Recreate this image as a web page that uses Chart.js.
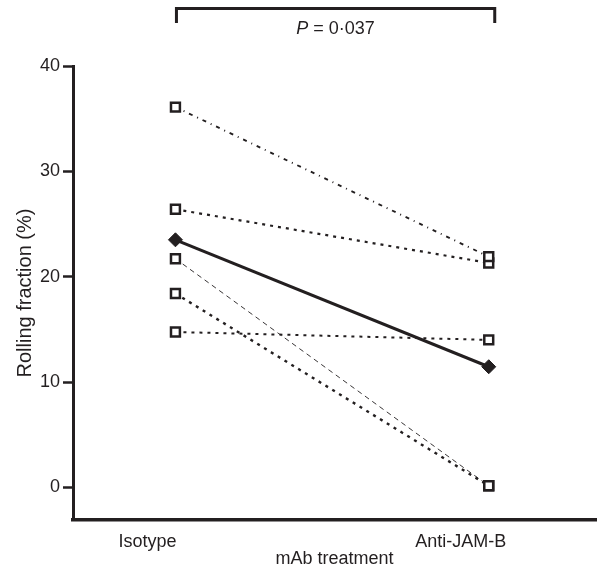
<!DOCTYPE html>
<html>
<head>
<meta charset="utf-8">
<script src="https://cdn.jsdelivr.net/npm/chart.js@4"></script>
<style>
  html, body { margin: 0; padding: 0; background: #fff; }
  #wrap { width: 605px; height: 571px; }
</style>
</head>
<body>
<div id="wrap"><canvas id="myChart" width="605" height="571"></canvas></div>
<script>
// values
const categories = ['Isotype', 'Anti-JAM-B'];
const isotypeValues = [36.1, 26.4, 21.7, 18.4, 14.75];
const antiJamBValues = [21.9, 21.3, 0.15, 0.15, 14.0];
const meanValues = [23.5, 11.45];
const yTicks = [0, 10, 20, 30, 40];
const pLabel = '0·037';

const ink = '#231f20';
const family = '"Liberation Sans", Arial, Helvetica, sans-serif';
const font = { family: family, size: 18 };

// line style of each subject
const dashes = [[4, 5, 1, 5], [3, 5], [5, 4], [3, 5], [3, 5]];
const widths = [1.9, 2.2, 0.9, 2.4, 2.0];

const subjectSets = isotypeValues.map((v, i) => ({
    label: 'subject ' + (i + 1),
    data: [{ x: 0, y: v }, { x: 1, y: antiJamBValues[i] }],
    borderColor: ink,
    borderWidth: widths[i],
    borderDash: dashes[i],
    pointStyle: 'rect',
    pointRadius: 6.3,
    pointBorderWidth: 2.5,
    pointBackgroundColor: '#fff',
    pointBorderColor: ink
}));

const meanSet = {
    label: 'mean',
    data: meanValues.map((v, i) => ({ x: i, y: v })),
    borderColor: ink,
    borderWidth: 3,
    pointStyle: 'rectRot',
    pointRadius: 7,
    pointBorderWidth: 1,
    pointBackgroundColor: ink,
    pointBorderColor: ink
};

// significance bracket above the two groups
const bracket = {
    id: 'bracket',
    afterDraw(chart) {
        const c = chart.ctx;
        const xs = chart.scales.x;
        const x0 = xs.getPixelForValue(0) + 1;
        const x1 = xs.getPixelForValue(1) + 6;
        c.save();
        c.strokeStyle = ink;
        c.lineWidth = 3;
        c.beginPath();
        c.moveTo(x0, 23);
        c.lineTo(x0, 8.5);
        c.lineTo(x1, 8.5);
        c.lineTo(x1, 23);
        c.stroke();
        const f = font.size + 'px ' + family;
        c.fillStyle = ink;
        c.textBaseline = 'alphabetic';
        c.font = 'italic ' + f;
        const wp = c.measureText('P').width;
        c.font = f;
        const rest = ' = ' + pLabel;
        const wr = c.measureText(rest).width;
        const start = (x0 + x1) / 2 - (wp + wr) / 2;
        c.font = 'italic ' + f;
        c.fillText('P', start, 34);
        c.font = f;
        c.fillText(rest, start + wp, 34);
        c.restore();
    }
};

const ctx = document.getElementById('myChart').getContext('2d');
const myChart = new Chart(ctx, {
    type: 'line',
    data: { datasets: [meanSet, ...subjectSets] },
    options: {
        responsive: false,
        animation: false,
        layout: { padding: { top: 66, right: 1, bottom: 0, left: 0 } },
        plugins: { legend: { display: false }, tooltip: { enabled: false } },
        scales: {
            x: {
                type: 'linear',
                min: -0.327,
                max: 1.343,
                afterFit(s) { s.height = 51; },
                afterBuildTicks(s) { s.ticks = categories.map((c, i) => ({ value: i })); },
                ticks: {
                    color: ink,
                    font: font,
                    padding: 3,
                    labelOffset: -28,
                    maxRotation: 0,
                    autoSkip: false,
                    callback: (v) => categories[v]
                },
                grid: { display: false },
                border: { color: ink, width: 3.5 },
                title: { display: true, text: 'mAb treatment', color: ink, font: font, padding: { top: 0, bottom: 1 } }
            },
            y: {
                min: -3.1,
                max: 40,
                afterFit(s) { s.width = 73; },
                afterBuildTicks(s) { s.ticks = yTicks.map(v => ({ value: v })); },
                ticks: { color: ink, font: font, padding: 3 },
                grid: { drawOnChartArea: false, tickLength: 10, tickWidth: 2.5, color: ink },
                border: { color: ink, width: 3 },
                title: { display: true, text: 'Rolling fraction (%)', color: ink, font: { family: family, size: 20 }, padding: { top: 13, bottom: 0 } }
            }
        }
    },
    plugins: [bracket]
});
</script>
</body>
</html>
